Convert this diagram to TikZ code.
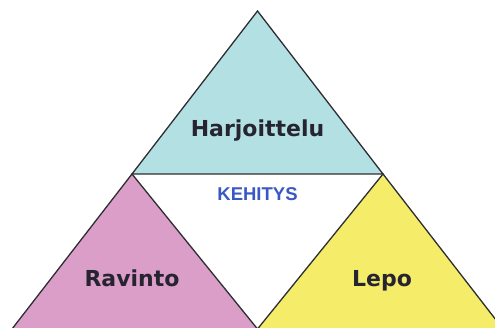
\documentclass[tikz,border=0pt]{standalone}
\usepackage{fontspec}
\usepackage{tikz}
\newfontfamily\labelfont{DejaVu Sans}
\newfontfamily\midfont{Liberation Sans}
\definecolor{harjcol}{RGB}{179,224,227}
\definecolor{ravcol}{RGB}{218,158,200}
\definecolor{lepocol}{RGB}{245,237,105}
\definecolor{kehcol}{RGB}{58,88,196}
\definecolor{edgecol}{RGB}{45,45,50}
\definecolor{textcol}{RGB}{38,36,48}
\tikzset{
	part/.style={draw=edgecol, line width=1.3pt, line join=miter},
	partlabel/.style={anchor=base, text=textcol, font=\labelfont\bfseries\fontsize{22}{26}\selectfont},
	midlabel/.style={anchor=base, text=kehcol, font=\midfont\bfseries\fontsize{18.5}{22}\selectfont}
}

\begin{document}
\begin{tikzpicture}[x=1pt, y=1pt]
		\clip (0, 0) rectangle (495, -328);
		\coordinate (apex) at (257.5, -11);
		\coordinate (left) at (132, -174);
		\coordinate (right) at (383, -174);
		\coordinate (mid) at (257.5, -329);
		\coordinate (farleft) at (12, -329);
		\coordinate (farright) at (503, -329);
		\fill[white] (left) -- (right) -- (mid) -- cycle;
		\draw[part, fill=ravcol] (left) -- (mid) -- (farleft) -- cycle;
		\draw[part, fill=lepocol] (right) -- (farright) -- (mid) -- cycle;
		\draw[part, fill=harjcol] (apex) -- (right) -- (left) -- cycle;
		\node[partlabel] (harj) at (257.5, -137) {Harjoittelu};
		\node[partlabel] (ravinto) at (132, -287) {Ravinto};
		\node[partlabel] (lepo) at (382, -287) {Lepo};
		\node[midlabel] (kehitys) at (257.5, -201) {KEHITYS};
	\end{tikzpicture}
\end{document}
